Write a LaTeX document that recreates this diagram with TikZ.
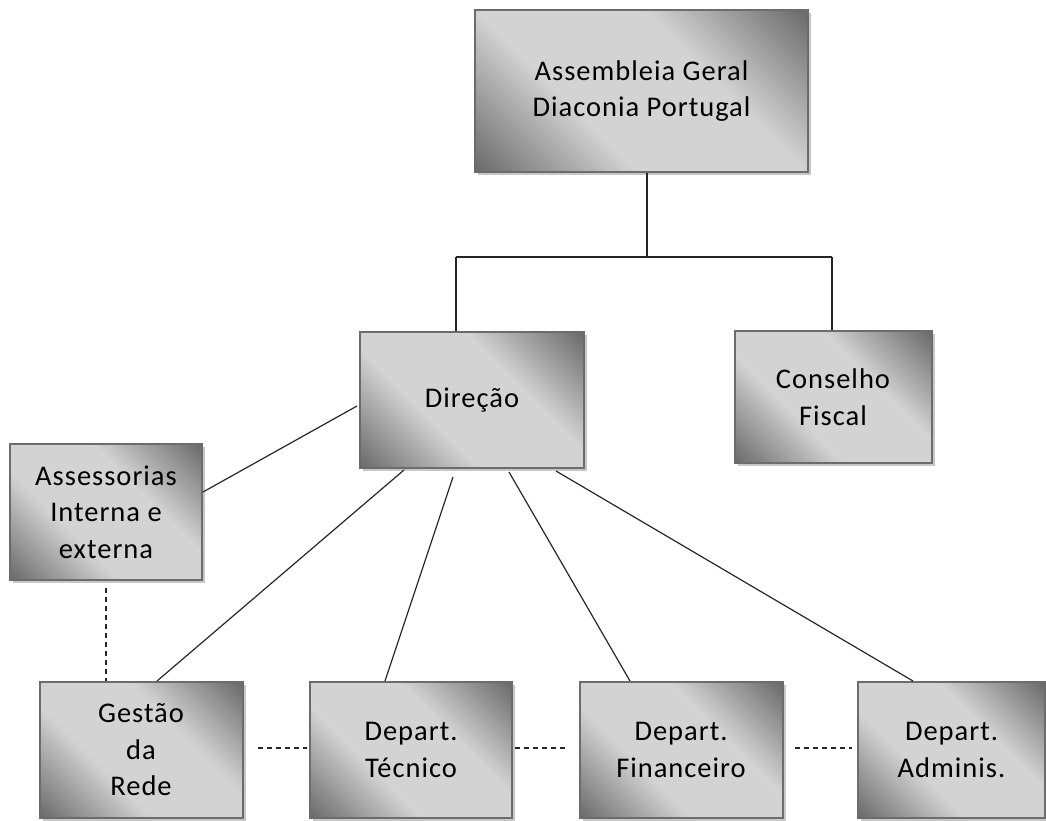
\documentclass[tikz,border=0pt]{standalone}
\usepackage{fontspec}
\setmainfont{Carlito}[LetterSpace=3.5]
\usetikzlibrary{shadows}
\definecolor{dk}{HTML}{626262}
\definecolor{lt}{HTML}{D3D3D3}
\definecolor{bd}{HTML}{6C6C6C}
\pgfdeclareverticalshading{boxshade}{100bp}{color(0bp)=(dk); color(13bp)=(dk); color(38bp)=(lt); color(62bp)=(lt); color(87bp)=(dk); color(100bp)=(dk)}
\tikzset{
  box/.style={draw=bd, line width=2pt, shading=boxshade, shading angle=-45,
    rectangle, align=center, inner sep=0pt, font=\fontsize{28.5}{36.5}\selectfont,
    drop shadow={shadow xshift=3pt, shadow yshift=-3pt, fill=black!22, opacity=1}},
  conn/.style={line width=1.2pt, draw=black!85},
  dconn/.style={line width=1.2pt, draw=black!85, dash pattern=on 5pt off 4pt},
}
\begin{document}
\begin{tikzpicture}[x=1pt,y=-1pt]
\useasboundingbox (0,0) rectangle (1046,820);
\node[box, minimum width=333pt, minimum height=162pt] (ag) at (641.5,91) {Assembleia Geral\\Diaconia Portugal};
\node[box, minimum width=224pt, minimum height=136pt] (dir) at (472,400) {Direção};
\node[box, minimum width=197pt, minimum height=132pt] (cf) at (833,397) {Conselho\\Fiscal};
\node[box, minimum width=192pt, minimum height=136pt] (as) at (106,512) {Assessorias\\Interna e\\externa};
\node[box, minimum width=203pt, minimum height=136pt] (gr) at (141,750) {Gestão\\da\\Rede};
\node[box, minimum width=202pt, minimum height=136pt] (dt) at (411,750) {Depart.\\Técnico};
\node[box, minimum width=203pt, minimum height=136pt] (df) at (681,750) {Depart.\\Financeiro};
\node[box, minimum width=187pt, minimum height=136pt] (da) at (951.5,750) {Depart.\\Adminis.};
% tree connectors
\coordinate (agb) at (647,173);
\coordinate (j) at (647,257);
\coordinate (jl) at (456,257);
\coordinate (jr) at (832,257);
\draw[conn] (agb) -- (j);
\draw[conn] (jl) -- (jr);
\draw[conn] (jl) -- (jl |- dir.north);
\draw[conn] (jr) -- (jr |- cf.north);
% from direção
\coordinate (d0) at (357,406);
\coordinate (d1) at (404,470);
\coordinate (d2) at (453,477);
\coordinate (d3) at (509,472);
\coordinate (d4) at (556,471);
\draw[conn] (d0) -- (as.east |- 0,492);
\draw[conn] (d1) -- (157,681);
\draw[conn] (d2) -- (385,681);
\draw[conn] (d3) -- (630,681);
\draw[conn] (d4) -- (913,681);
% dashed
\draw[dconn] (106,588) -- (106,681);
\draw[dconn] (258,748) -- (307,748);
\draw[dconn] (515,748) -- (565,748);
\draw[dconn] (795,748) -- (852,748);
\end{tikzpicture}
\end{document}
